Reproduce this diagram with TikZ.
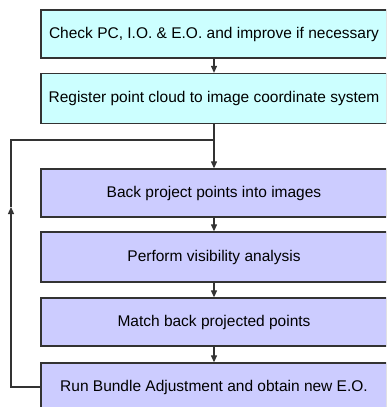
\documentclass[tikz,border=0pt]{standalone}
\usepackage{fontspec}
\setmainfont{Liberation Sans}
\usepackage{xcolor}
\usetikzlibrary{arrows.meta}
\definecolor{pcyan}{HTML}{CCFFFF}
\definecolor{pblue}{HTML}{CCCCFF}
\definecolor{pline}{HTML}{333333}

\begin{document}
\begin{tikzpicture}[x=1pt,y=-1pt,font=\fontsize{15.5}{18}\selectfont,>={Triangle[length=7pt,width=6pt]},
  box/.style={draw=pline,line width=1.3pt,align=center,minimum width=346pt,minimum height=48pt,inner sep=0pt},
  conn/.style={draw=pline,line width=1.2pt}]
  \useasboundingbox (0,0) rectangle (386,407);
  \clip (0,0) rectangle (386,407);
  \node[box,fill=pcyan] (chk) at (214,34) {Check PC, I.O. \& E.O. and improve if necessary};
  \node[box,fill=pcyan,minimum height=50pt] (reg) at (214,98.5) {Register point cloud to image coordinate system};
  \node[box,fill=pblue] (back) at (214,193) {Back project points into images};
  \node[box,fill=pblue,minimum height=50pt] (vis) at (214,257) {Perform visibility analysis};
  \node[box,fill=pblue] (match) at (214,322) {Match back projected points};
  \node[box,fill=pblue] (bundle) at (214,387) {Run Bundle Adjustment and obtain new E.O.};
  \coordinate (jn) at (214,140);
  \coordinate (lp) at (11,207);
  \draw[conn,->] (chk) -- (reg);
  \draw[conn] (reg) -- (jn);
  \draw[conn,->] (jn) -- (back);
  \draw[conn,->] (back) -- (vis);
  \draw[conn,->] (vis) -- (match);
  \draw[conn,->] (match) -- (bundle);
  \draw[conn,->] (bundle.west) -| (lp);
  \draw[conn] (lp) |- (jn);
\end{tikzpicture}
\end{document}
